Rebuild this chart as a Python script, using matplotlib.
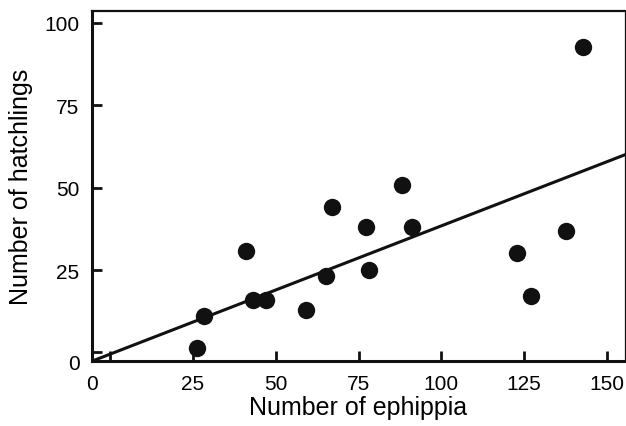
import numpy as np
import matplotlib
matplotlib.use("Agg")
import matplotlib.pyplot as plt

# ── Data ─────────────────────────────────────────────────────────────────────

ephippia   = [26.2, 28.3, 41.0, 43.2, 47.2, 59.1, 65.1, 67.1, 77.2, 78.1,
              88.0, 91.1, 123.0, 127.0, 137.8, 142.9]
hatchlings = [1.2, 11.1, 30.9, 15.9, 15.9, 12.9, 23.1, 44.0, 38.0, 25.1,
              50.9, 38.0, 30.1, 17.0, 36.9, 92.8]

fit_intercept = -0.5
fit_slope = 0.389

x_ticks = [0, 25, 50, 75, 100, 125, 150]
y_ticks = [0, 25, 50, 75, 100]
x_lim = (-5.5, 155.5)
y_lim = (-2.6, 103.6)

plt.rcParams["font.family"] = ["Liberation Sans", "DejaVu Sans"]

fig = plt.figure(figsize=(6.26, 4.27), dpi=100)
ax = fig.add_axes([0.147, 0.1522, 0.8514, 0.8197])

ax.plot(ephippia, hatchlings, "o", color="#111111", markersize=12.5,
        markeredgewidth=0, zorder=3)

xl = np.array(x_lim)
ax.plot(xl, fit_intercept + fit_slope * xl, color="#111111", linewidth=2.2,
        zorder=2, clip_on=True)

ax.set_xlim(*x_lim)
ax.set_ylim(*y_lim)

# major ticks, the zero tick carries no label (the "0" sits on the corner)
ax.set_xticks(x_ticks, labels=[""] + [str(v) for v in x_ticks[1:]])
ax.set_yticks(y_ticks, labels=[""] + [str(v) for v in y_ticks[1:]])
ax.set_xticks([x_lim[0]], labels=["0"], minor=True)
ax.set_yticks([y_lim[0]], labels=["0"], minor=True)

ax.tick_params(which="major", direction="in", length=7.5, width=2,
               labelsize=15, pad=9, color="#111111")
ax.tick_params(which="minor", length=0, labelsize=15, pad=9)

for side, lw in (("left", 2.2), ("bottom", 2.2), ("top", 1.6), ("right", 0.9)):
    ax.spines[side].set_linewidth(lw)
    ax.spines[side].set_color("#111111")

ax.set_xlabel("Number of ephippia", fontsize=18, labelpad=2)
ax.set_ylabel("Number of hatchlings", fontsize=18, labelpad=8)

fig.savefig("out.png", dpi=100)
